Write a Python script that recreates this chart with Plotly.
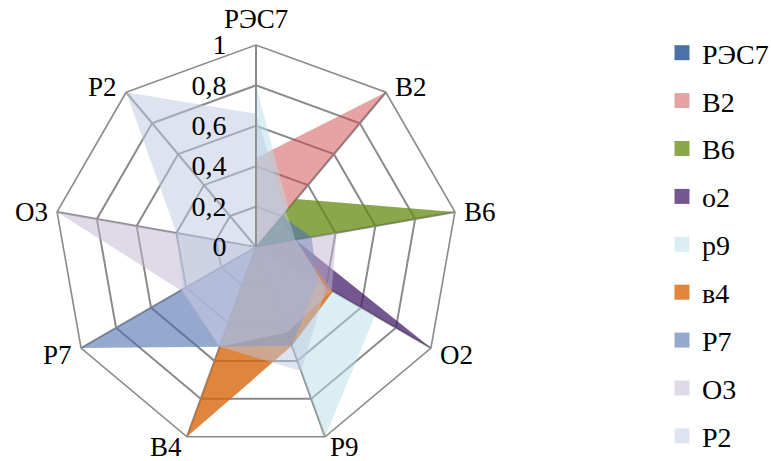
import math
import plotly.graph_objects as go

# Categories around the radar (clockwise from the top)
categories = ["РЭС7", "В2", "В6", "О2", "Р9", "В4", "Р7", "О3", "Р2"]

# Series names as shown in the legend
series_names = ["РЭС7", "В2", "В6", "о2", "р9", "в4", "Р7", "О3", "Р2"]

# Normalised values per series, in category order
vals_res7 = [0, 0, 0, 0, 0, 0, 0, 0, 0]
vals_v2 = [0.44, 1, 0, 0, 0, 0, 0, 0, 0]
vals_v6 = [0, 0.31, 1, 0, 0, 0, 0, 0, 0]
vals_o2 = [0, 0, 0.20, 1, 0, 0, 0, 0, 0]
vals_p9 = [0.80, 0.25, 0, 0.68, 1, 0, 0, 0, 0]
vals_v4 = [0, 0, 0.20, 0.44, 0.52, 1, 0, 0, 0]
vals_p7 = [0, 0.20, 0.28, 0.35, 0.52, 0.525, 1, 0, 0]
vals_o3 = [0, 0, 0.405, 0.433, 0.45, 0.525, 0.43, 1, 0]
vals_p2 = [0.66, 0.23, 0.20, 0.40, 0.655, 0.525, 0.42, 0.40, 1]

all_values = [vals_res7, vals_v2, vals_v6, vals_o2, vals_p9,
              vals_v4, vals_p7, vals_o3, vals_p2]

# Fill colours (base rgb, opacity) and the flat legend key colours
fill_colors = [
    ("74,114,168", 1.0),
    ("205,71,71", 0.5),
    ("99,139,15", 0.75),
    ("70,30,107", 0.75),
    ("181,221,231", 0.5),
    ("215,102,12", 0.8),
    ("78,112,175", 0.6),
    ("193,181,209", 0.5),
    ("187,201,225", 0.5),
]
key_colors = ["#4a72a8", "#e6a3a3", "#8aa84b", "#745690", "#daeef3",
              "#df853d", "#95a9cf", "#e0dae8", "#dde4f0"]

FONT = "Liberation Serif, Times New Roman, serif"
CAT_SIZE = 27
TICK_SIZE = 28
LEG_SIZE = 28
GRID = "#8a8a8a"

W, H = 771, 461
CX, CY, R = 256, 247, 202  # radar centre and outer radius, px

fig = go.Figure()

for name, vals, (rgb, a), key in zip(series_names, all_values, fill_colors, key_colors):
    fig.add_trace(go.Scatterpolar(
        r=vals + [vals[0]],
        theta=categories + [categories[0]],
        mode="lines",
        fill="toself",
        fillcolor=f"rgba({rgb},{a})",
        line=dict(width=0, color=f"rgba({rgb},0)"),
        showlegend=False,
        hoverinfo="skip",
    ))
    # legend key
    fig.add_trace(go.Scatterpolar(
        r=[None], theta=[categories[0]],
        mode="markers",
        marker=dict(symbol="square", size=15, color=key),
        name=name,
        legendgroup=name,
        showlegend=True,
    ))

# Category labels placed just outside each spoke tip
annotations = []
n = len(categories)
for i, cat in enumerate(categories):
    ang = math.radians(90 - 360 * i / n)
    c, s = math.cos(ang), math.sin(ang)
    vx, vy = CX + R * c, CY - R * s
    if abs(c) < 0.1:
        x, y, xa = vx, vy - 26, "center"
    else:
        dx = 7 if abs(s) < 0.9 else 3
        x = vx + (dx if c > 0 else -dx)
        y = vy + 2 - 9 * s
        xa = "left" if c > 0 else "right"
    annotations.append(dict(
        text=cat, x=x / W, y=1 - y / H, xref="paper", yref="paper",
        xanchor=xa, yanchor="middle", showarrow=False,
        font=dict(family=FONT, size=CAT_SIZE, color="black"),
    ))

fig.update_layout(
    width=W, height=H,
    margin=dict(l=0, r=0, t=0, b=0, autoexpand=False),
    paper_bgcolor="white",
    separators=", ",
    font=dict(family=FONT, size=CAT_SIZE, color="black"),
    annotations=annotations,
    polar=dict(
        domain=dict(x=[(CX - R) / W, (CX + R) / W],
                    y=[1 - (CY + R) / H, 1 - (CY - R) / H]),
        bgcolor="white",
        gridshape="linear",
        angularaxis=dict(
            direction="clockwise",
            rotation=90,
            showline=True,
            linecolor=GRID,
            linewidth=1.6,
            gridcolor=GRID,
            gridwidth=1.6,
            ticks="",
            showticklabels=False,
            layer="below traces",
        ),
        radialaxis=dict(
            range=[0, 1],
            tickvals=[0, 0.2, 0.4, 0.6, 0.8, 1],
            ticktext=["0", "0,2", "0,4", "0,6", "0,8", "1"],
            angle=90,
            tickangle=90,
            side="counterclockwise",
            showline=True,
            linecolor=GRID,
            linewidth=1.6,
            gridcolor=GRID,
            gridwidth=1.6,
            ticks="outside",
            ticklen=19,
            tickcolor="rgba(0,0,0,0)",
            tickfont=dict(family=FONT, size=TICK_SIZE, color="black"),
            layer="above traces",
        ),
    ),
    legend=dict(
        x=662 / W, y=0, xanchor="left", yanchor="bottom",
        font=dict(family=FONT, size=LEG_SIZE, color="black"),
        tracegroupgap=8.5,
        itemwidth=30,
        bgcolor="rgba(0,0,0,0)",
    ),
)

fig.write_html("out.html")
